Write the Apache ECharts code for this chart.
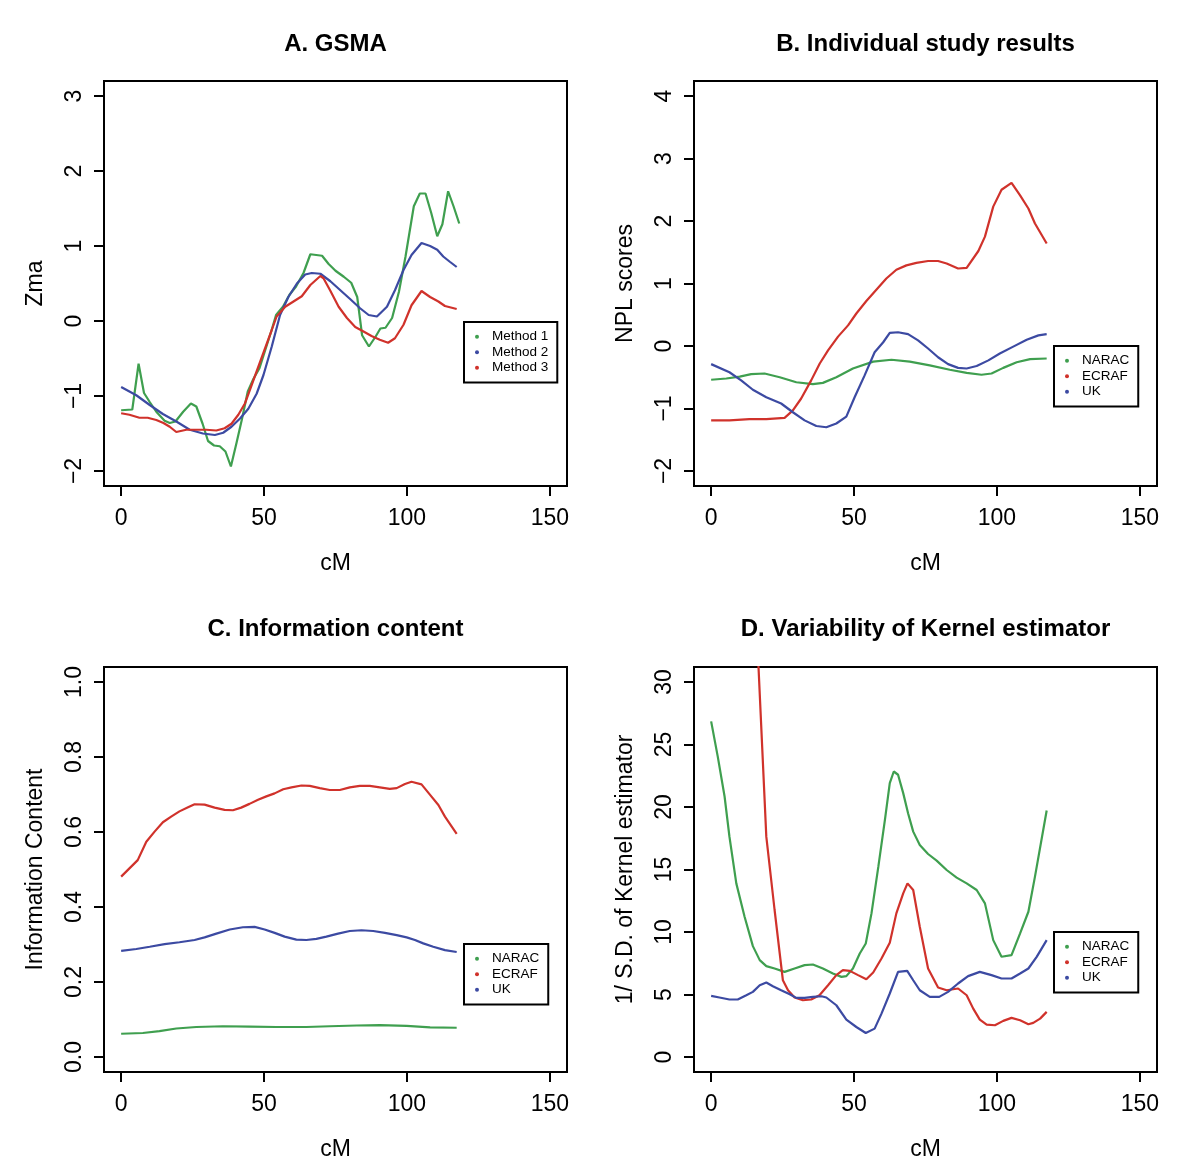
<!DOCTYPE html>
<html>
<head>
<meta charset="utf-8">
<script src="https://cdn.jsdelivr.net/npm/echarts@6/dist/echarts.min.js"></script>
<style>
html,body{margin:0;padding:0;background:#fff;}
#chart{width:1200px;height:1170px;}
</style>
</head>
<body>
<div id="chart"></div>
<script>
// ---------- Data (cM, value) ----------
const xTicks = [0, 50, 100, 150];
const yTicksA = [-2, -1, 0, 1, 2, 3];
const yTicksB = [-2, -1, 0, 1, 2, 3, 4];
const yTicksC = [0.0, 0.2, 0.4, 0.6, 0.8, 1.0];
const yTicksD = [0, 5, 10, 15, 20, 25, 30];

const titles = ["A. GSMA", "B. Individual study results", "C. Information content", "D. Variability of Kernel estimator"];
const yNames = ["Zma", "NPL scores", "Information Content", "1/ S.D. of Kernel estimator"];
const legendA = ["Method 1", "Method 2", "Method 3"];
const legendStudies = ["NARAC", "ECRAF", "UK"];

// Panel A: GSMA
const gsmaMethod1 = [[0,-1.19],[3.9,-1.18],[6.1,-0.57],[8,-0.96],[10,-1.08],[12.3,-1.21],[15.2,-1.33],[17,-1.36],[19,-1.34],[21.7,-1.21],[24.4,-1.10],[26.3,-1.14],[28.5,-1.37],[30.4,-1.60],[32.5,-1.66],[34.5,-1.67],[36.5,-1.74],[38.4,-1.94],[40.4,-1.62],[42.2,-1.32],[44.3,-0.94],[46.3,-0.77],[48.4,-0.63],[50.4,-0.39],[52.5,-0.14],[54.2,0.08],[56.6,0.19],[58.9,0.35],[61.2,0.46],[63.8,0.64],[66.2,0.89],[70.3,0.87],[72.6,0.76],[75,0.67],[77.9,0.59],[80.5,0.51],[82.6,0.32],[84.3,-0.19],[86.7,-0.34],[89,-0.21],[90.7,-0.10],[92.5,-0.09],[94.8,0.04],[97.2,0.39],[99.5,0.86],[102.4,1.53],[104.5,1.70],[106.5,1.70],[108.5,1.44],[110.6,1.13],[112.4,1.29],[114.4,1.73],[116.3,1.53],[118.3,1.30]];
const gsmaMethod2 = [[0,-0.88],[5.3,-0.99],[10,-1.12],[14.6,-1.24],[19.3,-1.34],[24,-1.45],[28.6,-1.50],[32.8,-1.52],[35.7,-1.49],[38.6,-1.41],[41.6,-1.30],[44.5,-1.17],[47.4,-0.97],[49.8,-0.72],[52.7,-0.34],[55.6,0.08],[58.5,0.32],[61.5,0.50],[64.4,0.62],[66.7,0.64],[69.7,0.63],[73.2,0.53],[76.7,0.41],[80.2,0.29],[83.6,0.17],[86.6,0.08],[89.5,0.06],[93,0.19],[95.8,0.41],[98.8,0.68],[101.6,0.88],[105.1,1.04],[108.1,1.00],[110.6,0.95],[112.7,0.86],[115,0.79],[117.4,0.72]];
const gsmaMethod3 = [[0,-1.23],[2.9,-1.25],[6.4,-1.29],[9.3,-1.29],[12.3,-1.32],[14.8,-1.36],[17,-1.41],[19.3,-1.48],[22.8,-1.45],[26.3,-1.45],[29.8,-1.45],[33.3,-1.46],[36.2,-1.43],[38.6,-1.37],[41,-1.25],[43.3,-1.10],[45.7,-0.85],[48,-0.61],[50.4,-0.36],[52.7,-0.12],[54.4,0.06],[57.4,0.19],[60.3,0.26],[63.2,0.33],[66.2,0.48],[69.7,0.60],[70.8,0.57],[73.1,0.41],[76.1,0.19],[79,0.04],[81.9,-0.08],[84.8,-0.14],[87.6,-0.20],[90.5,-0.25],[93.4,-0.29],[95.8,-0.23],[98.8,-0.05],[101.6,0.21],[105.1,0.40],[108.1,0.32],[111,0.26],[113.3,0.20],[117.4,0.16]];

// Panel B: NPL scores
const nplNARAC = [[0,-0.54],[5.3,-0.52],[10,-0.49],[14,-0.45],[18.7,-0.44],[24,-0.50],[29.8,-0.58],[35.6,-0.61],[39.1,-0.59],[43.8,-0.50],[49.6,-0.36],[56.7,-0.25],[63.1,-0.22],[69.5,-0.25],[76.5,-0.31],[83.5,-0.38],[89.4,-0.43],[94.6,-0.46],[98.1,-0.44],[102.2,-0.35],[106.9,-0.26],[111.6,-0.21],[117.4,-0.20]];
const nplECRAF = [[0,-1.19],[6.4,-1.19],[13.4,-1.17],[19.3,-1.17],[25.7,-1.15],[28.6,-1.03],[31.5,-0.84],[35,-0.55],[38,-0.28],[40.9,-0.07],[44.4,0.15],[47.9,0.33],[50.8,0.52],[54.3,0.72],[57.8,0.90],[61.3,1.08],[64.8,1.22],[68.3,1.29],[71.8,1.33],[75.9,1.36],[79.4,1.36],[82.4,1.32],[86.4,1.24],[89.4,1.25],[93.5,1.52],[95.8,1.75],[98.7,2.23],[101.6,2.50],[105.1,2.61],[108.1,2.41],[111,2.20],[113.3,1.96],[117.4,1.64]];
const nplUK = [[0,-0.29],[6.4,-0.42],[10.5,-0.55],[14.6,-0.70],[19.3,-0.82],[24.5,-0.92],[28.6,-1.06],[32.7,-1.19],[36.8,-1.28],[40.3,-1.30],[43.8,-1.24],[47.3,-1.13],[50.2,-0.82],[53.7,-0.47],[57.2,-0.10],[60.2,0.06],[62.5,0.21],[65.4,0.22],[68.9,0.19],[72.4,0.09],[75.9,-0.04],[79.4,-0.18],[82.9,-0.29],[86.4,-0.35],[89.4,-0.36],[92.9,-0.32],[97,-0.23],[101,-0.12],[105.7,-0.01],[110.4,0.10],[114.5,0.17],[117.4,0.19]];

// Panel C: information content
const infoNARAC = [[0,0.062],[7.6,0.064],[13.4,0.069],[19.3,0.076],[26.3,0.080],[35.6,0.082],[45,0.081],[54.3,0.080],[64.8,0.080],[73,0.082],[82.4,0.084],[90.5,0.085],[99.9,0.083],[108.1,0.079],[117.4,0.078]];
const infoECRAF = [[0,0.481],[2.9,0.503],[5.8,0.525],[8.8,0.574],[11.7,0.601],[14.6,0.626],[17.5,0.641],[20.4,0.655],[23.4,0.666],[25.7,0.674],[29.2,0.673],[32.7,0.665],[36.2,0.659],[39.1,0.658],[42,0.665],[44.9,0.675],[47.9,0.686],[50.8,0.695],[53.7,0.703],[56.7,0.714],[59.6,0.719],[63.1,0.724],[66,0.723],[69.5,0.717],[73,0.712],[76.5,0.712],[80,0.719],[83.5,0.723],[87,0.723],[90.5,0.719],[94,0.715],[96.4,0.717],[99.3,0.728],[101.6,0.734],[105.1,0.727],[108.1,0.699],[111,0.672],[113.3,0.641],[117.4,0.595]];
const infoUK = [[0,0.283],[5.3,0.288],[10,0.294],[15.2,0.301],[20.4,0.306],[25.7,0.312],[29.2,0.319],[33.3,0.329],[38,0.340],[42.6,0.346],[46.7,0.347],[50.2,0.340],[53.7,0.331],[57.2,0.321],[61.3,0.313],[64.8,0.312],[68.3,0.315],[71.8,0.321],[75.9,0.329],[80,0.336],[84.1,0.338],[88.2,0.336],[92.3,0.331],[96.4,0.325],[99.9,0.319],[102.8,0.312],[105.7,0.303],[109.2,0.294],[113.3,0.285],[117.4,0.280]];

// Panel D: 1 / S.D. of kernel estimator
const kernNARAC = [[0,26.85],[2.3,24.05],[4.7,20.84],[6.4,17.63],[8.8,13.89],[11.7,11.22],[14.6,8.87],[17,7.75],[19.3,7.27],[22.2,7.08],[25.7,6.81],[29.2,7.08],[32.7,7.35],[35.6,7.40],[39.1,7.08],[42.6,6.68],[45.6,6.41],[47.3,6.47],[49.6,7.08],[52,8.28],[54.1,9.08],[56.1,11.49],[58.5,15.23],[60.8,18.97],[62.5,21.91],[63.9,22.84],[65.4,22.58],[67.2,21.11],[68.9,19.50],[70.7,18.03],[73,16.96],[75.9,16.24],[78.9,15.71],[82.4,14.96],[85.9,14.35],[89.4,13.89],[92.9,13.36],[95.8,12.29],[98.7,9.35],[101.6,8.02],[105.1,8.15],[108.1,9.89],[111,11.62],[113.3,14.43],[117.4,19.72]];
const kernECRAF = [[0,120],[5,95],[10,66],[14.8,40],[19.3,17.63],[22.2,11.76],[25.1,6.14],[26.9,5.34],[29.2,4.76],[32.1,4.54],[35,4.60],[37.9,4.94],[40.9,5.74],[43.8,6.55],[46.1,6.95],[48.5,6.89],[51.4,6.55],[54.3,6.22],[56.7,6.76],[59.6,7.88],[62.5,9.14],[64.8,11.49],[67.2,13.09],[68.7,13.89],[70.7,13.36],[73,10.42],[75.9,7.08],[79.4,5.56],[82.4,5.34],[86.4,5.48],[89.4,4.94],[91.7,3.87],[94,2.99],[96.4,2.59],[99.3,2.54],[102.2,2.89],[105.1,3.13],[108.1,2.94],[111,2.62],[112.7,2.73],[115.1,3.07],[117.4,3.61]];
const kernUK = [[0,4.89],[2.9,4.76],[6.4,4.60],[9.3,4.60],[12.3,4.94],[14.6,5.21],[17,5.74],[19.3,5.96],[21.6,5.66],[24.5,5.34],[27.5,5.02],[29.8,4.73],[32.7,4.73],[35.6,4.81],[38.6,4.86],[40.3,4.76],[43.8,4.14],[47.3,2.99],[50.8,2.40],[54.1,1.92],[57.2,2.27],[59.6,3.47],[62.5,5.08],[65.4,6.81],[68.6,6.89],[70.7,6.14],[73,5.34],[76.5,4.81],[79.8,4.81],[82.9,5.21],[86.4,5.88],[89.9,6.47],[94,6.81],[98.1,6.55],[101.6,6.28],[105.1,6.28],[108.1,6.68],[111,7.08],[113.9,8.01],[117.4,9.35]];

// ---------- Styling ----------
const FONT = "'Liberation Sans', Arial, Helvetica, sans-serif";
const GREEN = '#3f9f4f', BLUE = '#3c4aa2', RED = '#d0322b';
const minus = v => String(v).replace('-', '\u2212');

const grids = [
  {left:104, top:81, width:463, height:405},
  {left:694, top:81, width:463, height:405},
  {left:104, top:667, width:463, height:405},
  {left:694, top:667, width:463, height:405}
];
const yRanges = [[-2.2, 3.2, yTicksA, v => minus(v)], [-2.24, 4.24, yTicksB, v => minus(v)], [-0.04, 1.04, yTicksC, v => v.toFixed(1)], [-1.2, 31.2, yTicksD, v => String(v)]];

const tickLine = {color:'#000', width:2};
const xAxes = grids.map((g, i) => ({
  gridIndex:i, type:'value', min:-6, max:156, position:'bottom',
  axisLine:{show:false, onZero:false}, splitLine:{show:false},
  axisTick:{show:true, length:10, inside:false, customValues:xTicks, lineStyle:tickLine},
  axisLabel:{customValues:xTicks, color:'#000', fontSize:23, fontFamily:FONT, margin:21},
  name:'cM', nameLocation:'middle', nameGap:66,
  nameTextStyle:{color:'#000', fontSize:23, fontFamily:FONT}
}));
const yAxes = grids.map((g, i) => ({
  gridIndex:i, type:'value', min:yRanges[i][0], max:yRanges[i][1], position:'left',
  axisLine:{show:false, onZero:false}, splitLine:{show:false},
  axisTick:{show:true, length:10, inside:false, customValues:yRanges[i][2], lineStyle:tickLine},
  axisLabel:{customValues:yRanges[i][2], color:'#000', fontSize:23, fontFamily:FONT, margin:18, rotate:90, formatter:yRanges[i][3]},
  name:yNames[i], nameLocation:'middle', nameRotate:90, nameGap:57,
  nameTextStyle:{color:'#000', fontSize:23, fontFamily:FONT}
}));

function line(name, data, color, idx) {
  return {type:'line', name:name, data:data, xAxisIndex:idx, yAxisIndex:idx,
    showSymbol:false, symbol:'none', clip:true, smooth:false,
    lineStyle:{color:color, width:2.2}, itemStyle:{color:color}};
}
const series = [
  line('Method 1', gsmaMethod1, GREEN, 0),
  line('Method 2', gsmaMethod2, BLUE, 0),
  line('Method 3', gsmaMethod3, RED, 0),
  line('NARAC', nplNARAC, GREEN, 1),
  line('ECRAF', nplECRAF, RED, 1),
  line('UK', nplUK, BLUE, 1),
  line('NARAC', infoNARAC, GREEN, 2),
  line('ECRAF', infoECRAF, RED, 2),
  line('UK', infoUK, BLUE, 2),
  line('NARAC', kernNARAC, GREEN, 3),
  line('ECRAF', kernECRAF, RED, 3),
  line('UK', kernUK, BLUE, 3)
];

function legend(data, left, top) {
  return {data:data, left:left, top:top, orient:'vertical', icon:'circle',
    itemWidth:20, itemHeight:4, itemGap:0, padding:[7,9,7,11],
    backgroundColor:'#fff', borderColor:'#000', borderWidth:2, borderRadius:0,
    selectedMode:false,
    textStyle:{color:'#000', fontSize:13.5, fontFamily:FONT, lineHeight:15.5}};
}

const centers = [335.5, 925.5, 335.5, 925.5];
const tops = [32, 32, 617, 617];
const option = {
  backgroundColor:'#fff',
  animation:false,
  title: titles.map((t, i) => ({text:t, left:centers[i], top:tops[i], textAlign:'center', padding:0,
    textStyle:{color:'#000', fontSize:24, fontWeight:'bold', fontFamily:FONT}})),
  grid: grids.map(g => Object.assign({show:true, borderColor:'#000', borderWidth:2, backgroundColor:'transparent', containLabel:false}, g)),
  xAxis: xAxes,
  yAxis: yAxes,
  legend: [legend(legendA, 464, 322), legend(legendStudies, 1054, 346), legend(legendStudies, 464, 944), legend(legendStudies, 1054, 932)],
  series: series
};
const chart = echarts.init(document.getElementById('chart'), null, {renderer:'canvas'});
chart.setOption(option);
</script>
</body>
</html>
